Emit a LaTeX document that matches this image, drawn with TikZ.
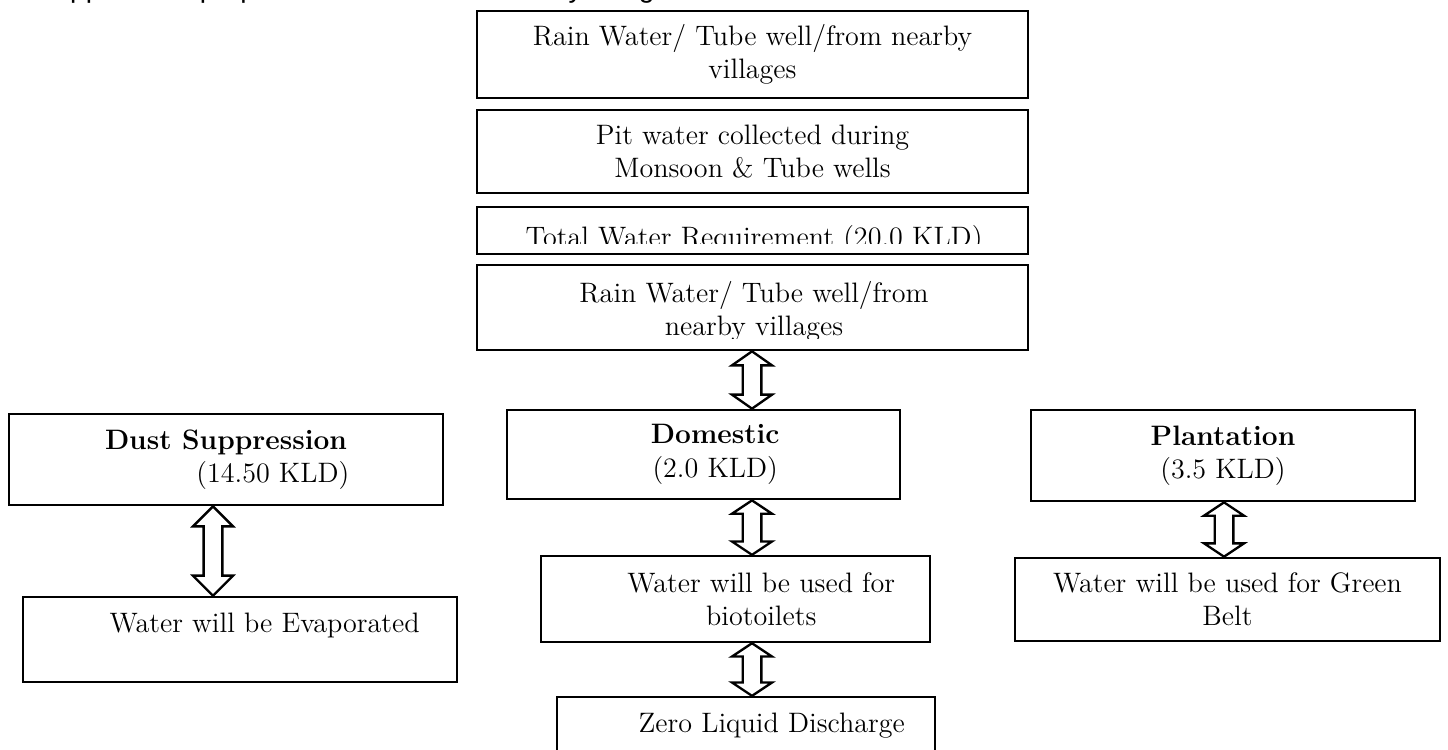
\documentclass[tikz,border=0pt]{standalone}
\usepackage{fontspec}
\newfontfamily\notefont{Liberation Sans}
\usetikzlibrary{calc}

\tikzset{
  box/.style={draw, line width=1pt, inner sep=0pt, align=center},
  hollow/.style={draw, line width=1pt, line join=miter},
}

% hollow two-headed arrow: x from #1, ends at #2 and #3, head length #4
\newcommand{\dblarrow}[4]{%
  \draw[hollow] let \p1=(#1 |- #2), \p2=(#1 |- #3) in
    (\x1,\y1) -- ({\x1+0.3cm},{\y1-#4}) -- ({\x1+0.14cm},{\y1-#4})
    -- ({\x1+0.14cm},{\y2+#4}) -- ({\x1+0.3cm},{\y2+#4}) -- (\x2,\y2)
    -- ({\x1-0.3cm},{\y2+#4}) -- ({\x1-0.14cm},{\y2+#4})
    -- ({\x1-0.14cm},{\y1-#4}) -- ({\x1-0.3cm},{\y1-#4}) -- cycle;}

\begin{document}
\begin{tikzpicture}[x=0.015cm, y=-0.015cm, font=\fontsize{12}{14.2}\selectfont]
  \useasboundingbox (0,0) rectangle (1448,749);
  \clip (0,0) rectangle (1448,749);

  % line of text cut off by the page
  \node[anchor=base west, inner sep=0pt, font=\notefont\fontsize{12}{14}\selectfont] (note) at (40,-3)
    {suppression purpose and used from nearby villages};

  % sources
  \node[box, minimum width=8.27cm, minimum height=1.31cm] (src) at (752.5,54.5)
    {Rain Water/ Tube well/from nearby\\villages};
  \node[box, minimum width=8.27cm, minimum height=1.25cm] (pit) at (752.5,151.5)
    {Pit water collected during\\Monsoon \& Tube wells};
  \node[box, minimum width=8.27cm, minimum height=0.71cm] (total) at (752.5,230.5) {};
  \node[box, minimum width=8.27cm, minimum height=1.28cm] (supply) at (752.5,307.5) {};
  \begin{scope}
    \clip (477,207) rectangle (1028,243);
    \node[anchor=base, inner sep=0pt] (totaltxt) at (754,246) {Total Water Requirement (20.0 KLD)};
  \end{scope}
  \begin{scope}
    \clip (477,265) rectangle (1028,338);
    \node[inner sep=0pt, align=center] (supplytxt) at (754,311) {Rain Water/ Tube well/from\\nearby villages};
  \end{scope}

  % uses
  \node[box, minimum width=6.51cm, minimum height=1.37cm] (dust) at (226,459.5)
    {\textbf{Dust Suppression}\\\hspace*{40pt}(14.50 KLD)};
  \node[box, minimum width=5.9cm, minimum height=1.34cm] (dom) at (703.5,454.5)
    {\hspace*{10pt}\textbf{Domestic}\\\hspace*{10pt}(2.0 KLD)};
  \node[box, minimum width=5.76cm, minimum height=1.37cm] (plant) at (1223,455.5)
    {\textbf{Plantation}\\(3.5 KLD)};

  % what becomes of it
  \node[box, minimum width=6.51cm, minimum height=1.28cm] (evap) at (240,639.5)
    {\hspace*{21pt}Water will be Evaporated\\\mbox{}};
  \node[box, minimum width=5.84cm, minimum height=1.29cm] (bio) at (735.5,599)
    {\hspace*{22pt}Water will be used for\\\hspace*{22pt}biotoilets};
  \node[box, minimum width=6.38cm, minimum height=1.25cm] (green) at (1227.5,599.5)
    {Water will be used for Green\\Belt};
  \node[box, minimum width=5.67cm, minimum height=0.87cm] (zero) at (746,726)
    {\hspace*{22pt}Zero Liquid Discharge};

  % arrows
  \coordinate (midx) at (752,0);
  \coordinate (dustx) at (213,0);
  \coordinate (plantx) at (1224,0);
  \dblarrow{midx}{supply.south}{dom.north}{0.21cm}
  \dblarrow{dustx}{dust.south}{evap.north}{0.3cm}
  \dblarrow{midx}{dom.south}{bio.north}{0.2cm}
  \dblarrow{midx}{bio.south}{zero.north}{0.2cm}
  \dblarrow{plantx}{plant.south}{green.north}{0.2cm}
\end{tikzpicture}
\end{document}
